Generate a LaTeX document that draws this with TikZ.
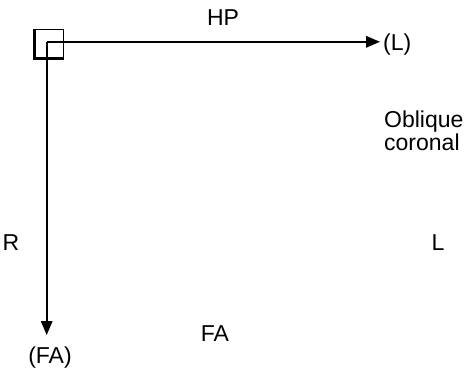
\documentclass[tikz,border=0pt]{standalone}
\usepackage{fontspec}
\setmainfont{Liberation Sans}
\usetikzlibrary{arrows.meta}
\begin{document}
\begin{tikzpicture}[x=1pt,y=-1pt,
  lbl/.style={font=\fontsize{23}{23}\selectfont, inner sep=0pt},
  axis/.style={line width=1.8pt, -{Triangle[length=14pt,width=11.5pt]}},
  box/.style={draw, line width=0.9pt, minimum size=30pt, inner sep=0pt}]
\useasboundingbox (0,0) rectangle (476,375);
% small reference square with shadowed left and bottom edges
\node[box] (sq) at (48,44.5) {};
\draw[line width=3pt] ([xshift=1.5pt]sq.north west) -- ([xshift=1.5pt,yshift=1.5pt]sq.south west) -- ([yshift=1.5pt]sq.south east);
% axes
\coordinate (o) at (46.7,41.8);
\coordinate (lend) at (380,41.8);
\coordinate (fend) at (46.7,335);
\draw[axis] (o) -- (lend);
\draw[axis] (o) -- (fend);
% labels
\node[lbl, anchor=base] (hp) at (223,25) {HP};
\node[lbl, anchor=base west] (l) at (383,50) {(L)};
\node[lbl, anchor=base west] (obl) at (384,127) {Oblique};
\node[lbl, anchor=base west] (cor) at (384,150) {coronal};
\node[lbl, anchor=base] (r) at (11,250) {R};
\node[lbl, anchor=base] (ll) at (438,250) {L};
\node[lbl, anchor=base] (fa) at (215,341) {FA};
\node[lbl, anchor=base] (fap) at (50,363) {(FA)};
\end{tikzpicture}
\end{document}
